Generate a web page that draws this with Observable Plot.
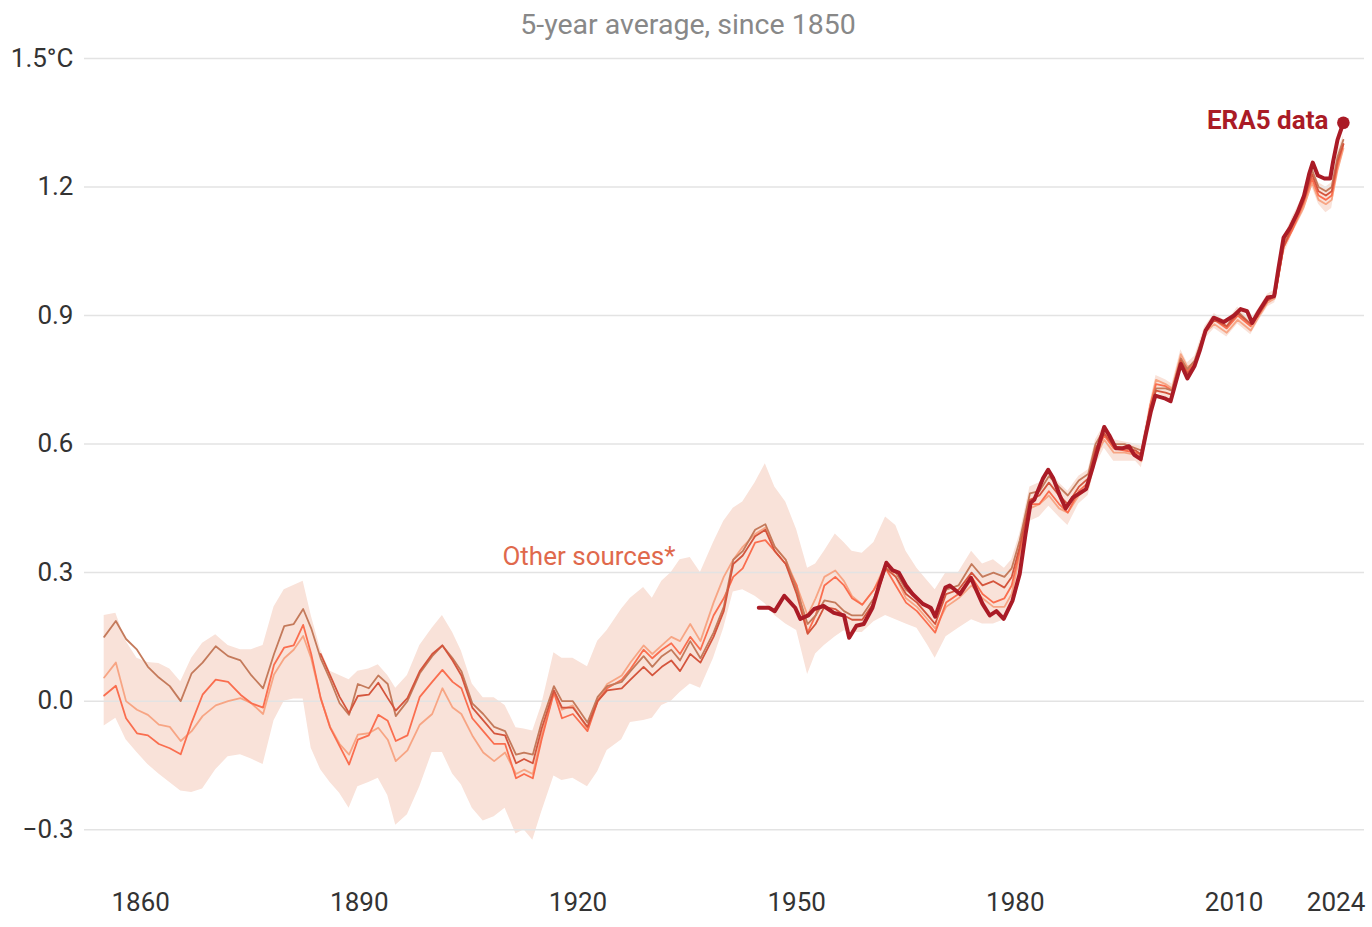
<!DOCTYPE html>
<html><head><meta charset="utf-8">
<script src="https://cdn.jsdelivr.net/npm/d3@7"></script>
<script src="https://cdn.jsdelivr.net/npm/@observablehq/plot@0.6"></script>
<style>
body{margin:0;background:#fff;font-family:Roboto,sans-serif;}
#title{width:1372px;height:46px;line-height:50px;text-align:center;font-size:28.5px;color:#888;padding-left:4px;box-sizing:border-box;}
#chart svg{overflow:visible;}
</style></head><body>
<div id="title">5-year average, since 1850</div>
<div id="chart"></div>
<script>
const years = [1855,1856.6,1858,1859.5,1861,1862.5,1864,1865.5,1867,1868.5,
1870.3,1872,1873.7,1875.2,1876.8,1878.3,1879.7,1881,1882.3,1883.4,
1884.7,1886,1887.3,1888.6,1889.8,1891.3,1892.6,1893.9,1895,1896.6,
1898.3,1900,1901.4,1902.8,1904,1905.5,1907,1908.5,1910,1911.5,
1912.6,1913.8,1915,1916.7,1917.8,1919.3,1921.3,1922.7,1924,1926,
1927.2,1929,1930.2,1931.5,1932.8,1934,1935.4,1936.8,1938.6,1940,
1941.3,1942.6,1944.3,1945.7,1947,1948.5,1950,1951.5,1952.6,1953.8,
1955.3,1956.5,1957.6,1959,1960.6,1962.2,1963.6,1965,1966.5,1968,
1969,1970.5,1972.2,1974,1975.5,1977,1978.5,1979.5,1980.6,1982,
1983.3,1984.6,1986,1987.2,1988.7,1990,1991,1992.2,1993.5,1995,
1996.5,1997.3,1998.5,1999.3,2000.6,2001.5,2002.7,2003.6,2004.6,2006,
2007.3,2009,2010.5,2012.3,2013.3,2014.6,2015.6,2016.8,2018,2019.5,
2020.7,2021.6,2022.6,2023.4,2024.2,2025];

const sourceA = [0.15,0.187,0.145,0.12,0.08,0.055,0.035,0.0,0.065,0.09,
0.128,0.105,0.095,0.06,0.03,0.11,0.175,0.18,0.215,0.17,
0.1,0.05,-0.005,-0.032,0.04,0.03,0.06,0.04,-0.035,0.0,
0.065,0.105,0.13,0.1,0.07,-0.005,-0.03,-0.06,-0.07,-0.125,
-0.12,-0.125,-0.05,0.035,0.0,0.0,-0.05,0.01,0.035,0.045,
0.07,0.105,0.08,0.105,0.12,0.095,0.14,0.1,0.16,0.22,
0.33,0.35,0.4,0.413,0.36,0.33,0.26,0.18,0.2,0.235,
0.23,0.21,0.2,0.2,0.24,0.31,0.3,0.26,0.24,0.22,
0.2,0.26,0.27,0.32,0.29,0.3,0.29,0.31,0.375,0.485,
0.49,0.525,0.5,0.48,0.515,0.53,0.6,0.635,0.6,0.6,
0.59,0.585,0.68,0.73,0.73,0.725,0.8,0.775,0.795,0.865,
0.895,0.875,0.91,0.88,0.905,0.94,0.95,1.07,1.12,1.17,
1.24,1.2,1.19,1.2,1.27,1.31];

const sourceD = [null,null,null,null,null,null,null,null,null,null,
null,null,null,null,null,null,null,null,null,null,
0.11,0.06,0.01,-0.028,0.012,0.015,0.043,0.007,-0.022,0.007,
0.07,0.11,0.13,0.095,0.06,-0.015,-0.045,-0.075,-0.08,-0.145,
-0.135,-0.145,-0.065,0.025,-0.015,-0.015,-0.06,0.0,0.025,0.03,
0.05,0.08,0.06,0.08,0.095,0.07,0.11,0.09,0.15,0.21,
0.32,0.34,0.385,0.4,0.35,0.32,0.25,0.157,0.18,0.22,
0.215,0.2,0.19,0.19,0.23,0.31,0.29,0.25,0.23,0.2,
0.18,0.25,0.26,0.3,0.27,0.28,0.265,0.29,0.36,0.47,
0.48,0.51,0.48,0.46,0.5,0.52,0.59,0.625,0.595,0.59,
0.585,0.575,0.68,0.725,0.72,0.715,0.795,0.765,0.785,0.86,
0.89,0.875,0.905,0.88,0.9,0.935,0.945,1.06,1.11,1.165,
1.23,1.19,1.18,1.19,1.26,1.3];

const sourceC = [0.013,0.036,-0.04,-0.075,-0.08,-0.1,-0.11,-0.124,-0.05,0.015,
0.05,0.045,0.015,-0.005,-0.015,0.085,0.125,0.13,0.178,0.11,
0.007,-0.062,-0.105,-0.148,-0.09,-0.08,-0.032,-0.046,-0.093,-0.08,
0.01,0.045,0.073,0.045,0.03,-0.04,-0.07,-0.1,-0.1,-0.18,
-0.17,-0.18,-0.09,0.02,-0.04,-0.03,-0.07,0.0,0.03,0.05,
0.075,0.12,0.1,0.12,0.135,0.11,0.15,0.12,0.2,0.24,
0.29,0.31,0.37,0.376,0.35,0.32,0.27,0.16,0.2,0.27,
0.29,0.27,0.24,0.225,0.26,0.31,0.27,0.23,0.21,0.18,
0.16,0.23,0.25,0.29,0.25,0.23,0.24,0.27,0.35,0.46,
0.46,0.49,0.46,0.44,0.49,0.51,0.58,0.62,0.59,0.585,
0.58,0.575,0.69,0.74,0.735,0.725,0.8,0.77,0.79,0.86,
0.89,0.87,0.9,0.875,0.9,0.935,0.945,1.06,1.1,1.16,
1.22,1.18,1.17,1.18,1.25,1.3];

const sourceB = [0.055,0.09,0.0,-0.02,-0.032,-0.055,-0.06,-0.093,-0.07,-0.035,
-0.01,0.0,0.007,-0.005,-0.03,0.062,0.1,0.12,0.152,0.1,
0.007,-0.06,-0.1,-0.125,-0.078,-0.075,-0.062,-0.09,-0.14,-0.115,
-0.055,-0.03,0.03,-0.015,-0.03,-0.08,-0.12,-0.14,-0.12,-0.17,
-0.16,-0.17,-0.08,0.02,-0.02,-0.01,-0.065,0.005,0.04,0.06,
0.09,0.13,0.11,0.13,0.15,0.14,0.18,0.14,0.23,0.29,
0.33,0.36,0.39,0.405,0.36,0.33,0.27,0.2,0.24,0.29,
0.305,0.28,0.245,0.225,0.26,0.32,0.29,0.24,0.22,0.19,
0.17,0.22,0.24,0.27,0.24,0.22,0.22,0.25,0.34,0.45,
0.46,0.48,0.45,0.44,0.48,0.5,0.57,0.61,0.58,0.58,
0.575,0.56,0.69,0.75,0.74,0.73,0.81,0.78,0.79,0.86,
0.88,0.86,0.89,0.865,0.895,0.93,0.94,1.06,1.1,1.15,
1.21,1.17,1.16,1.17,1.24,1.29];

const rangeHigh = [0.2,0.205,0.14,0.1,0.09,0.088,0.075,0.045,0.1,0.135,
0.155,0.13,0.12,0.12,0.13,0.22,0.26,0.27,0.28,0.2,
0.12,0.07,0.06,0.05,0.07,0.075,0.085,0.06,0.03,0.06,
0.13,0.17,0.2,0.16,0.117,0.04,0.008,0.008,-0.01,-0.062,
-0.065,-0.07,-0.01,0.113,0.1,0.1,0.08,0.14,0.165,0.215,
0.24,0.265,0.24,0.28,0.3,0.33,0.335,0.3,0.37,0.42,
0.45,0.465,0.51,0.554,0.5,0.465,0.4,0.31,0.32,0.35,
0.39,0.37,0.35,0.345,0.37,0.43,0.41,0.35,0.31,0.28,
0.26,0.3,0.3,0.35,0.32,0.33,0.31,0.33,0.39,0.5,
0.51,0.54,0.51,0.49,0.525,0.54,0.61,0.645,0.61,0.605,
0.6,0.595,0.7,0.76,0.75,0.74,0.82,0.79,0.805,0.875,
0.905,0.885,0.92,0.89,0.915,0.95,0.96,1.08,1.13,1.18,
1.25,1.21,1.2,1.21,1.28,1.32];

const rangeLow = [-0.058,-0.04,-0.09,-0.12,-0.148,-0.17,-0.19,-0.21,-0.213,-0.205,
-0.16,-0.13,-0.125,-0.135,-0.148,-0.046,0.0,0.005,0.005,-0.11,
-0.16,-0.19,-0.215,-0.25,-0.2,-0.19,-0.18,-0.22,-0.29,-0.265,
-0.2,-0.12,-0.12,-0.17,-0.195,-0.25,-0.28,-0.27,-0.25,-0.31,
-0.3,-0.325,-0.26,-0.175,-0.185,-0.18,-0.2,-0.165,-0.115,-0.09,
-0.05,-0.045,-0.04,-0.01,0.0,0.02,0.04,0.03,0.1,0.17,
0.255,0.26,0.245,0.227,0.2,0.18,0.165,0.062,0.11,0.13,
0.15,0.164,0.16,0.16,0.185,0.2,0.19,0.18,0.17,0.13,
0.1,0.15,0.17,0.19,0.18,0.18,0.19,0.22,0.31,0.42,
0.43,0.455,0.43,0.41,0.46,0.48,0.55,0.59,0.56,0.56,
0.56,0.545,0.67,0.72,0.71,0.7,0.78,0.755,0.77,0.845,
0.87,0.85,0.88,0.855,0.885,0.92,0.93,1.04,1.09,1.14,
1.2,1.16,1.14,1.15,1.23,1.28];

const era5Years = [1944.8,1946.2,1947,1948.3,1949.8,1950.5,1951.6,1952.4,1953.7,1955.1,
1956.5,1957.2,1958.2,1959.2,1960.4,1961.3,1962.3,1963.2,1964,1965,
1965.9,1967.3,1968.4,1969,1970.4,1971,1972.4,1973.9,1974.5,1975.5,
1976.5,1977.4,1978.4,1979.6,1980.6,1981.4,1982.1,1982.6,1983.8,1984.5,
1985.2,1986.1,1986.9,1987.9,1988.8,1989.7,1990.6,1991.5,1992.2,1992.9,
1993.8,1994.7,1995.6,1996.3,1997.2,1997.9,1998.6,1999.2,2000.6,2001.3,
2002.7,2003.6,2004.6,2005.3,2006.1,2007.2,2008.6,2010,2010.9,2011.8,
2012.5,2013.4,2014.6,2015.5,2016.1,2016.8,2017.7,2018.7,2019.6,2020.3,
2020.8,2021.5,2022.4,2023.2,2023.6,2024.2,2025];

const era5 = [0.218,0.218,0.21,0.246,0.218,0.192,0.2,0.215,0.222,0.206,
0.2,0.148,0.176,0.18,0.218,0.27,0.323,0.305,0.3,0.27,
0.25,0.227,0.218,0.197,0.265,0.27,0.25,0.288,0.265,0.227,
0.2,0.21,0.192,0.234,0.297,0.39,0.463,0.47,0.52,0.54,
0.52,0.48,0.45,0.475,0.485,0.495,0.545,0.6,0.64,0.62,
0.59,0.59,0.595,0.575,0.565,0.623,0.677,0.713,0.706,0.7,
0.787,0.753,0.783,0.818,0.865,0.895,0.885,0.9,0.915,0.91,
0.883,0.91,0.942,0.945,1.01,1.082,1.105,1.14,1.18,1.23,
1.257,1.227,1.22,1.22,1.26,1.31,1.35];

const xTicks = [1860, 1890, 1920, 1950, 1980, 2010, 2024];
const yTicks = [-0.3, 0, 0.3, 0.6, 0.9, 1.2, 1.5];

const sourceSeries = [
  {name: "B", values: sourceB, color: "#f7a584"},
  {name: "C", values: sourceC, color: "#fa6e4f"},
  {name: "A", values: sourceA, color: "#c47a5b"},
  {name: "D", values: sourceD, color: "#d4553d"}
];

const band = years.map((year, i) => ({year, lo: rangeLow[i], hi: rangeHigh[i]}));
const sourceRows = sourceSeries.flatMap(s =>
  years.map((year, i) => ({year, value: s.values[i], series: s.name}))
       .filter(d => d.value !== null && d.value !== undefined));
const era5Rows = era5Years.map((year, i) => ({year, value: era5[i]}));
const era5Last = [era5Rows[era5Rows.length - 1]];
const otherLabel = [{year: 1921.5, value: 0.337, text: "Other sources*"}];

const ERA_COLOR = "#aa1b26";

const chart = Plot.plot({
  width: 1372,
  height: 881,
  marginTop: 12,
  marginBottom: 55,
  marginLeft: 84,
  marginRight: 8,
  style: {fontFamily: "Roboto, sans-serif", fontSize: "26px", color: "#333", background: "#fff"},
  x: {domain: [1852.3, 2027.9]},
  y: {domain: [-0.4, 1.5]},
  color: {domain: sourceSeries.map(s => s.name), range: sourceSeries.map(s => s.color)},
  marks: [
    Plot.areaY(band, {x: "year", y1: "lo", y2: "hi", fill: "#f9e2d9"}),
    Plot.ruleY(yTicks, {stroke: "#e3e3e3", strokeWidth: 1.5}),
    Plot.line(sourceRows, {x: "year", y: "value", z: "series", stroke: "series", strokeWidth: 1.8, strokeLinejoin: "round"}),
    Plot.line(era5Rows, {x: "year", y: "value", stroke: ERA_COLOR, strokeWidth: 4, strokeLinejoin: "round", strokeLinecap: "round"}),
    Plot.dot(era5Last, {x: "year", y: "value", r: 6.3, fill: ERA_COLOR}),
    Plot.text(era5Last, {x: "year", y: "value", text: () => "ERA5 data", textAnchor: "end", dx: -15, dy: -2, fill: ERA_COLOR, fontWeight: "bold", fontSize: 26}),
    Plot.text(otherLabel, {x: "year", y: "value", text: "text", fill: "#e0694c", fontSize: 26}),
    Plot.axisX(xTicks, {tickSize: 0, tickPadding: 20, tickFormat: d => String(d), fontSize: 26, label: null}),
    Plot.axisY(yTicks, {tickSize: 0, tickPadding: 11, tickFormat: v => v === 1.5 ? "1.5°C" : v.toFixed(1).replace("-", "\u2212"), fontSize: 26, label: null})
  ]
});
document.getElementById("chart").appendChild(chart);
</script>
</body></html>
